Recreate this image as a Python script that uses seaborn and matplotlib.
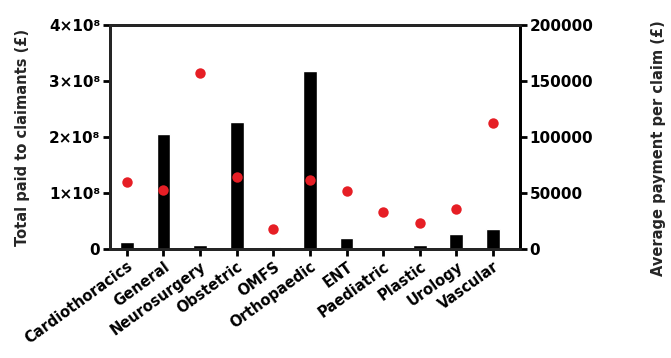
import matplotlib.pyplot as plt
import pandas as pd
import seaborn as sns

SPECIALTIES = ["Cardiothoracics", "General", "Neurosurgery", "Obstetric", "OMFS",
               "Orthopaedic", "ENT", "Paediatric", "Plastic", "Urology", "Vascular"]
TOTAL_PAID = [1.2e7, 2.05e8, 7e6, 2.27e8, 3e6, 3.18e8, 2.0e7, 1e6, 7e6, 2.7e7, 3.6e7]
AVG_PAYMENT = [60000, 53000, 157000, 64000, 18000, 62000, 52000, 33000, 23500, 36000, 113000]

LEFT_TICKS = [0, 1e8, 2e8, 3e8, 4e8]
LEFT_LABELS = ["0", "1×10⁸", "2×10⁸", "3×10⁸", "4×10⁸"]
RIGHT_TICKS = [0, 50000, 100000, 150000, 200000]

df = pd.DataFrame({"Specialty": SPECIALTIES, "Total": TOTAL_PAID, "Average": AVG_PAYMENT})

sns.set_theme(style="ticks")
plt.rcParams["font.family"] = ["DejaVu Sans"]
plt.rcParams["font.weight"] = "bold"
plt.rcParams["axes.linewidth"] = 2
plt.rcParams["xtick.major.width"] = 2
plt.rcParams["ytick.major.width"] = 2
plt.rcParams["xtick.major.size"] = 5
plt.rcParams["ytick.major.size"] = 5

fig = plt.figure(figsize=(6.71, 3.58), dpi=100)
ax = fig.add_axes([0.164, 0.304, 0.611, 0.626])

sns.barplot(data=df, x="Specialty", y="Total", color="black", width=0.38,
            saturation=1, ax=ax)
ax.set_ylim(0, 4e8)
ax.set_xlim(-0.46, 10.74)
ax.set_yticks(LEFT_TICKS)
ax.set_yticklabels(LEFT_LABELS, fontsize=11, fontweight="bold")
ax.set_xticks(range(len(SPECIALTIES)))
ax.set_xticklabels(SPECIALTIES, rotation=36, ha="right", rotation_mode="anchor",
                   fontsize=10.5, fontweight="bold")
ax.set_xlabel("")
ax.set_ylabel("Total paid to claimants (£)", fontsize=10.5, fontweight="bold", labelpad=14)
for s in ["top", "right", "left", "bottom"]:
    ax.spines[s].set_visible(True)
    ax.spines[s].set_color("black")
ax.tick_params(colors="black", pad=2)

ax2 = ax.twinx()
sns.stripplot(data=df, x="Specialty", y="Average", color="#e61e25", jitter=False,
              size=7.5, linewidth=0, ax=ax2)
ax2.set_ylim(0, 200000)
ax2.set_xlim(-0.46, 10.74)
ax2.set_yticks(RIGHT_TICKS)
ax2.set_yticklabels([str(v) for v in RIGHT_TICKS], fontsize=11, fontweight="bold")
ax2.set_ylabel("")
ax2.set_xlabel("")
ax2.tick_params(colors="black", pad=2)
ax2.spines["right"].set_color("black")

fig.text(0.981, 0.585, "Average payment per claim (£)", rotation=90, ha="center",
         va="center", fontsize=10.5, fontweight="bold")

fig.savefig("out.png", dpi=100)
